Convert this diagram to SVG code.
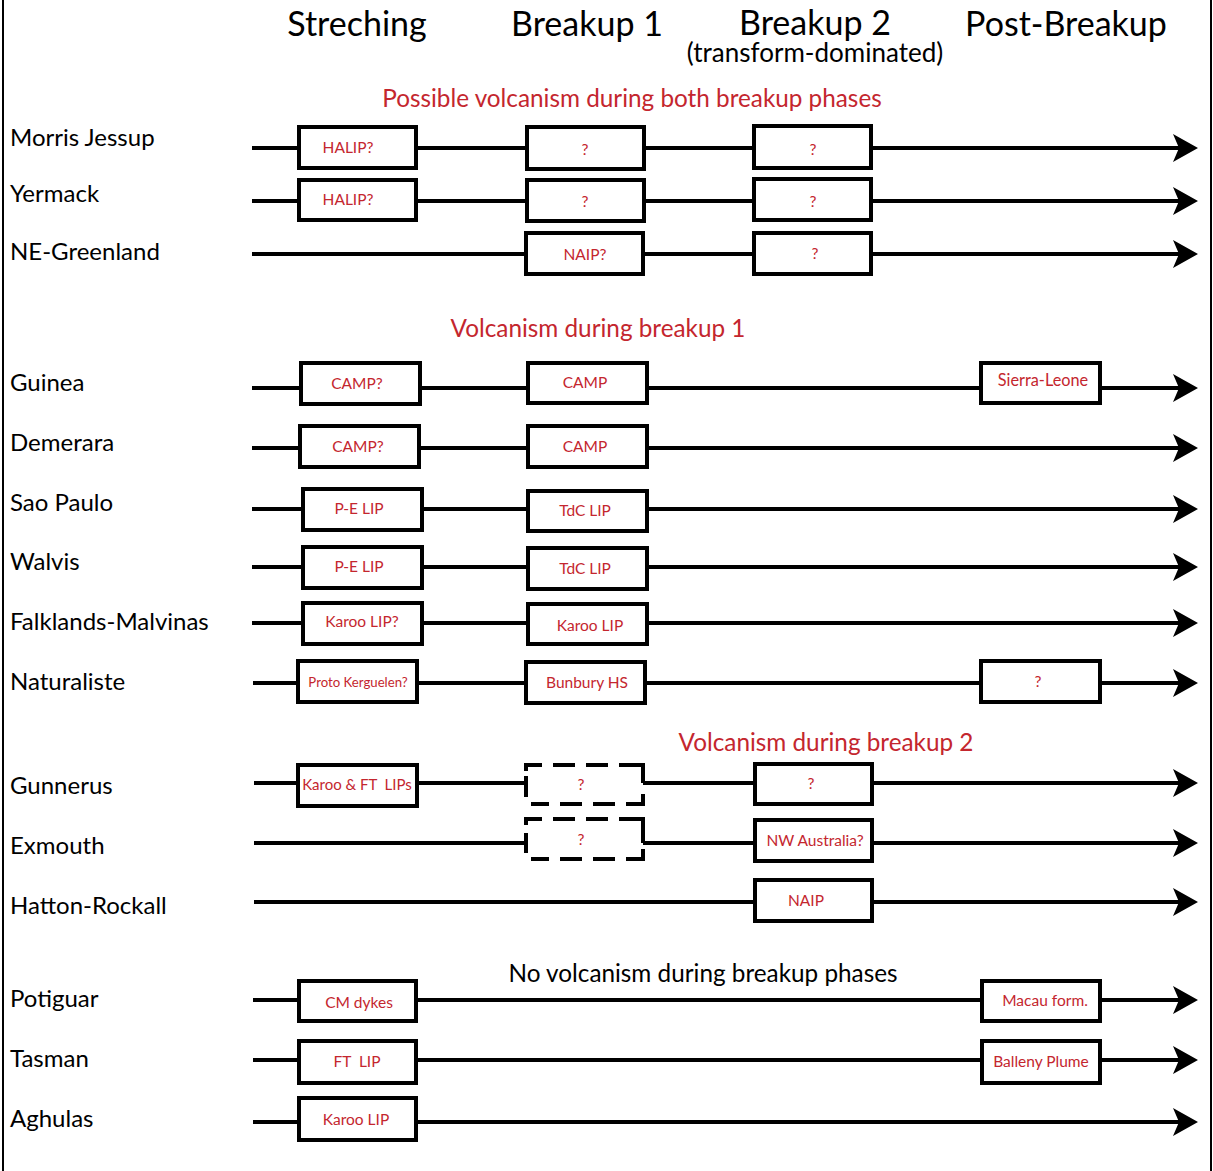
<svg xmlns="http://www.w3.org/2000/svg" width="1213" height="1171" viewBox="0 0 1213 1171">
<style>
.hdr{font-family:Lato,"Open Sans",sans-serif;font-size:34px;fill:#000;text-anchor:middle}
.sub{font-family:Lato,"Open Sans",sans-serif;font-size:26px;fill:#000;text-anchor:middle}
.grp{font-family:Lato,"Open Sans",sans-serif;font-size:24.3px;fill:#c4262e;text-anchor:middle}
.grpk{font-family:Lato,"Open Sans",sans-serif;font-size:24.3px;fill:#000;text-anchor:middle}
.row{font-family:Lato,"Open Sans",sans-serif;font-size:24px;fill:#000}
.box rect{fill:#fff;stroke:#000;stroke-width:4}
.box text,.dash text{font-family:Lato,"Open Sans",sans-serif;font-size:15.5px;fill:#c4262e;text-anchor:middle}
.dash .bg{fill:#fff;stroke:none}
.dash path{fill:none;stroke:#000;stroke-width:4}
.conn line{stroke:#000;stroke-width:4;marker-end:url(#arr)}
.frame{stroke:#000;stroke-width:2}
</style>
<defs>
<marker id="arr" markerUnits="userSpaceOnUse" viewBox="0 0 25 28" refX="17" refY="14" markerWidth="25" markerHeight="28" orient="auto">
<path d="M25,14 L0,0 L6,14 L0,28 Z" fill="#000"/>
</marker>
</defs>
<rect width="1213" height="1171" fill="#fff"/>
<line class="frame" x1="3" y1="0" x2="3" y2="1171"/>
<line class="frame" x1="1211" y1="0" x2="1211" y2="1171"/>

<g id="headers">
<text class="hdr" x="357" y="36">Streching</text>
<text class="hdr" x="587" y="36">Breakup 1</text>
<text class="hdr" x="815" y="35">Breakup 2</text>
<text class="sub" x="815" y="62">(transform-dominated)</text>
<text class="hdr" x="1066" y="36">Post-Breakup</text>
</g>
<g id="group-labels">
<text class="grp" x="632" y="107">Possible volcanism during both breakup phases</text>
<text class="grp" x="598" y="337">Volcanism during breakup 1</text>
<text class="grp" x="826" y="751">Volcanism during breakup 2</text>
<text class="grpk" x="703" y="982">No volcanism during breakup phases</text>
</g>
<g id="row-labels">
<text class="row" x="10" y="146">Morris Jessup</text>
<text class="row" x="10" y="202">Yermack</text>
<text class="row" x="10" y="260">NE-Greenland</text>
<text class="row" x="10" y="391">Guinea</text>
<text class="row" x="10" y="451">Demerara</text>
<text class="row" x="10" y="511">Sao Paulo</text>
<text class="row" x="10" y="570">Walvis</text>
<text class="row" x="10" y="630">Falklands-Malvinas</text>
<text class="row" x="10" y="690">Naturaliste</text>
<text class="row" x="10" y="794">Gunnerus</text>
<text class="row" x="10" y="854">Exmouth</text>
<text class="row" x="10" y="914">Hatton-Rockall</text>
<text class="row" x="10" y="1007">Potiguar</text>
<text class="row" x="10" y="1067">Tasman</text>
<text class="row" x="10" y="1127">Aghulas</text>
</g>

<g id="connectors" class="conn">
<line x1="252" y1="148" x2="1190" y2="148"/>
<line x1="252" y1="201" x2="1190" y2="201"/>
<line x1="252" y1="254" x2="1190" y2="254"/>
<line x1="252" y1="388" x2="1190" y2="388"/>
<line x1="252" y1="448" x2="1190" y2="448"/>
<line x1="252" y1="509" x2="1190" y2="509"/>
<line x1="252" y1="567" x2="1190" y2="567"/>
<line x1="252" y1="623" x2="1190" y2="623"/>
<line x1="253" y1="683" x2="1190" y2="683"/>
<line x1="254" y1="783" x2="1190" y2="783"/>
<line x1="254" y1="843" x2="1190" y2="843"/>
<line x1="254" y1="902" x2="1190" y2="902"/>
<line x1="253" y1="1000" x2="1190" y2="1000"/>
<line x1="253" y1="1060" x2="1190" y2="1060"/>
<line x1="253" y1="1122" x2="1190" y2="1122"/>
</g>

<g id="n-mj-1" class="box"><rect x="299" y="127" width="117" height="41"/><text x="348" y="153">HALIP?</text></g>
<g id="n-mj-2" class="box"><rect x="527" y="127" width="117" height="42"/><text x="585" y="155">?</text></g>
<g id="n-mj-3" class="box"><rect x="754" y="126" width="117" height="42"/><text x="813" y="155">?</text></g>

<g id="n-ye-1" class="box"><rect x="299" y="180" width="117" height="40"/><text x="348" y="205">HALIP?</text></g>
<g id="n-ye-2" class="box"><rect x="527" y="180" width="117" height="41"/><text x="585" y="207">?</text></g>
<g id="n-ye-3" class="box"><rect x="754" y="179" width="117" height="41"/><text x="813" y="207">?</text></g>

<g id="n-neg-2" class="box"><rect x="526" y="233" width="117" height="41"/><text x="585" y="260">NAIP?</text></g>
<g id="n-neg-3" class="box"><rect x="754" y="233" width="117" height="41"/><text x="815" y="259">?</text></g>

<g id="n-gu-1" class="box"><rect x="301" y="363" width="119" height="41"/><text x="357" y="389">CAMP?</text></g>
<g id="n-gu-2" class="box"><rect x="528" y="363" width="119" height="40"/><text x="585" y="388">CAMP</text></g>
<g id="n-gu-4" class="box"><rect x="981" y="363" width="119" height="40"/><text x="1043" y="386" style="font-size:16.3px">Sierra-Leone</text></g>

<g id="n-de-1" class="box"><rect x="300" y="426" width="119" height="41"/><text x="358" y="452">CAMP?</text></g>
<g id="n-de-2" class="box"><rect x="528" y="426" width="119" height="41"/><text x="585" y="452">CAMP</text></g>

<g id="n-sp-1" class="box"><rect x="303" y="489" width="119" height="41"/><text x="359" y="514">P-E LIP</text></g>
<g id="n-sp-2" class="box"><rect x="528" y="491" width="119" height="40"/><text x="585" y="516">TdC LIP</text></g>

<g id="n-wa-1" class="box"><rect x="303" y="547" width="119" height="41"/><text x="359" y="572">P-E LIP</text></g>
<g id="n-wa-2" class="box"><rect x="528" y="548" width="119" height="41"/><text x="585" y="574">TdC LIP</text></g>

<g id="n-fm-1" class="box"><rect x="303" y="603" width="119" height="41"/><text x="362" y="627">Karoo LIP?</text></g>
<g id="n-fm-2" class="box"><rect x="528" y="604" width="119" height="40"/><text x="590" y="631">Karoo LIP</text></g>

<g id="n-na-1" class="box"><rect x="298" y="661" width="119" height="41"/><text x="358" y="687" style="font-size:13.2px">Proto Kerguelen?</text></g>
<g id="n-na-2" class="box"><rect x="526" y="662" width="119" height="41"/><text x="587" y="688">Bunbury HS</text></g>
<g id="n-na-4" class="box"><rect x="981" y="661" width="119" height="41"/><text x="1038" y="687">?</text></g>

<g id="n-gn-1" class="box"><rect x="298" y="765" width="119" height="41"/><text x="357" y="790" style="font-size:15px">Karoo &amp; FT&#160; LIPs</text></g>
<g id="n-gn-2" class="dash">
<rect class="bg" x="526" y="765" width="117" height="39"/>
<path d="M526,771 V765 H542 M553,765 H575 M586,765 H608 M619,765 H643 V783 M526,776 V797 M531,804 H549 M560,804 H582 M593,804 H615 M626,804 H643 V794"/>
<text x="581" y="790">?</text>
</g>
<g id="n-gn-3" class="box"><rect x="755" y="764" width="117" height="40"/><text x="811" y="789">?</text></g>

<g id="n-ex-2" class="dash">
<rect class="bg" x="526" y="819" width="117" height="40"/>
<path d="M526,825 V819 H542 M553,819 H575 M586,819 H608 M619,819 H643 V843 M526,833 V853 M531,859 H549 M560,859 H582 M593,859 H615 M626,859 H643 V849"/>
<text x="581" y="845">?</text>
</g>
<g id="n-ex-3" class="box"><rect x="755" y="820" width="117" height="41"/><text x="815" y="846">NW Australia?</text></g>

<g id="n-hr-3" class="box"><rect x="755" y="880" width="117" height="41"/><text x="806" y="906">NAIP</text></g>

<g id="n-po-1" class="box"><rect x="299" y="981" width="117" height="40"/><text x="359" y="1008">CM dykes</text></g>
<g id="n-po-4" class="box"><rect x="982" y="981" width="118" height="40"/><text x="1045" y="1006">Macau form.</text></g>

<g id="n-ta-1" class="box"><rect x="299" y="1041" width="117" height="42"/><text x="357" y="1067">FT&#160; LIP</text></g>
<g id="n-ta-4" class="box"><rect x="982" y="1041" width="118" height="42"/><text x="1041" y="1067">Balleny Plume</text></g>

<g id="n-ag-1" class="box"><rect x="299" y="1098" width="117" height="42"/><text x="356" y="1125">Karoo LIP</text></g>
</svg>
